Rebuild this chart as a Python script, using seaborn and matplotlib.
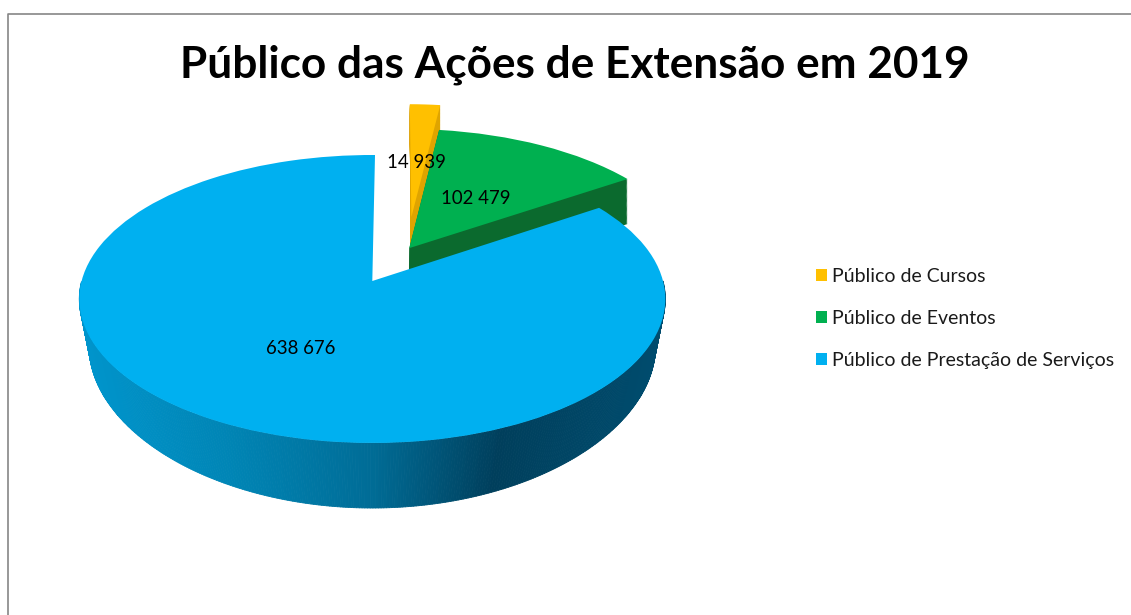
import numpy as np
import matplotlib
matplotlib.use("Agg")
import matplotlib.pyplot as plt
import seaborn as sns
from matplotlib.collections import PolyCollection
from matplotlib.colors import LinearSegmentedColormap
from matplotlib.lines import Line2D
from matplotlib.transforms import Transform

categories = ["Público de Cursos", "Público de Eventos", "Público de Prestação de Serviços"]
values = [14939, 102479, 638676]
explode = [0.25, 0.012, 0.26]
top_colors = ["#FFC000", "#00B050", "#00B0F0"]
side_colors = ["#DFA400", "#0B6A2E", "#00658F"]
title = "Público das Ações de Extensão em 2019"

sns.set_theme(style="white")
plt.rcParams["font.family"] = ["Lato", "DejaVu Sans"]

W, H = 1131, 615
fig = plt.figure(figsize=(W / 100, H / 100), dpi=100, facecolor="white")
ax = fig.add_axes([0, 0, 1, 1])

# perspective camera: unit pie -> pixel-like axes coordinates
AX, AY = 372.3, 281.0     # image of the reference slice centre
SX, SY, K = 290.7, 141.75, 0.125
D0, D1, XS, XP = 52.7, 0.076, 0.034, 371.5


class Tilt(Transform):
    input_dims = output_dims = 2
    is_affine = False
    has_inverse = False

    def __init__(self, origin, t=0.0):
        super().__init__()
        self.origin, self.t = origin, t

    def transform_non_affine(self, pts):
        pts = np.asarray(pts, float)
        u = pts[:, 0] - self.origin[0]
        v = pts[:, 1] - self.origin[1]
        w = 1 + K * v
        x = AX + SX * u / w
        y = AY - SY * v / w
        shrink = XS * np.clip((y - 180) / 117, 0, None)
        y = y + self.t * (D0 + D1 * (y - AY))
        x = XP + (x - XP) * (1 - self.t * shrink)
        return np.column_stack([x, y])


def base_pie(colors):
    w, _ = ax.pie(values, explode=explode, colors=colors, startangle=89.4,
                  counterclock=False, wedgeprops=dict(linewidth=0))
    return w


top = base_pie(top_colors)
origin = np.array(top[2].center)
order = {0: 2, 1: 4, 2: 6}          # orange, green, blue stacking

# extruded sides of the small slices
for t in np.linspace(1, 0.02, 50):
    layer = base_pie(side_colors)
    for i, wedge in enumerate(layer):
        wedge.set_transform(Tilt(origin, t) + ax.transData)
        wedge.set_zorder(order[i] - 1)
        wedge.set_visible(i < 2)

for i, wedge in enumerate(top):
    wedge.set_transform(Tilt(origin) + ax.transData)
    wedge.set_zorder(order[i])

# shaded rim of the big slice (front half only)
shade = LinearSegmentedColormap.from_list(
    "rim", [(0.0, "#0095CC"), (0.25, "#0085B5"), (0.5, "#006C96"),
            (0.72, "#003F5C"), (1.0, "#004C6E")])
big = top[2]
th = np.radians(np.linspace(big.theta1, big.theta2, 600))
th = th[np.sin(th) < 0.0]
arc = np.column_stack([origin[0] + big.r * np.cos(th), origin[1] + big.r * np.sin(th)])
upper = Tilt(origin, 0.0).transform(arc)
lower = Tilt(origin, 1.0).transform(arc)
quads, tints = [], []
for a in range(len(th) - 1):
    quads.append([upper[a], upper[a + 1], lower[a + 1], lower[a]])
    tints.append(shade((upper[a, 0] - 78) / (665 - 78)))
ax.add_collection(PolyCollection(quads, facecolors=tints, edgecolors=tints,
                                 linewidths=0.6, zorder=5, antialiased=True))

ax.set_aspect("auto")
ax.set_xlim(0, W)
ax.set_ylim(H, 0)
ax.set_axis_off()

# data labels
label_at = [(416, 163), (476, 198), (301, 348)]
for v, (x, y) in zip(values, label_at):
    ax.text(x, y, f"{v:,}".replace(",", " "), ha="center", va="center",
            fontsize=13.4, color="black", zorder=10)

ax.text(574.5, 65, title, ha="center", va="center", fontsize=31.8,
        fontweight="bold", color="black", zorder=10)

leg = fig.legend(top, categories, loc="upper left",
                 bbox_to_anchor=(0.7215, 0.5642), frameon=False, fontsize=14,
                 handlelength=0.57, handleheight=0.57, handletextpad=0.27,
                 labelspacing=1.29, borderpad=0, borderaxespad=0)
for text in leg.get_texts():
    text.set_color("#1a1a1a")

# chart-area border (left and top only are within the crop)
fig.add_artist(Line2D([7.5 / W, 7.5 / W, 1], [0, 1 - 13.5 / H, 1 - 13.5 / H],
                      color="#868686", lw=1.2))

fig.savefig("out.png", dpi=100, facecolor="white")
